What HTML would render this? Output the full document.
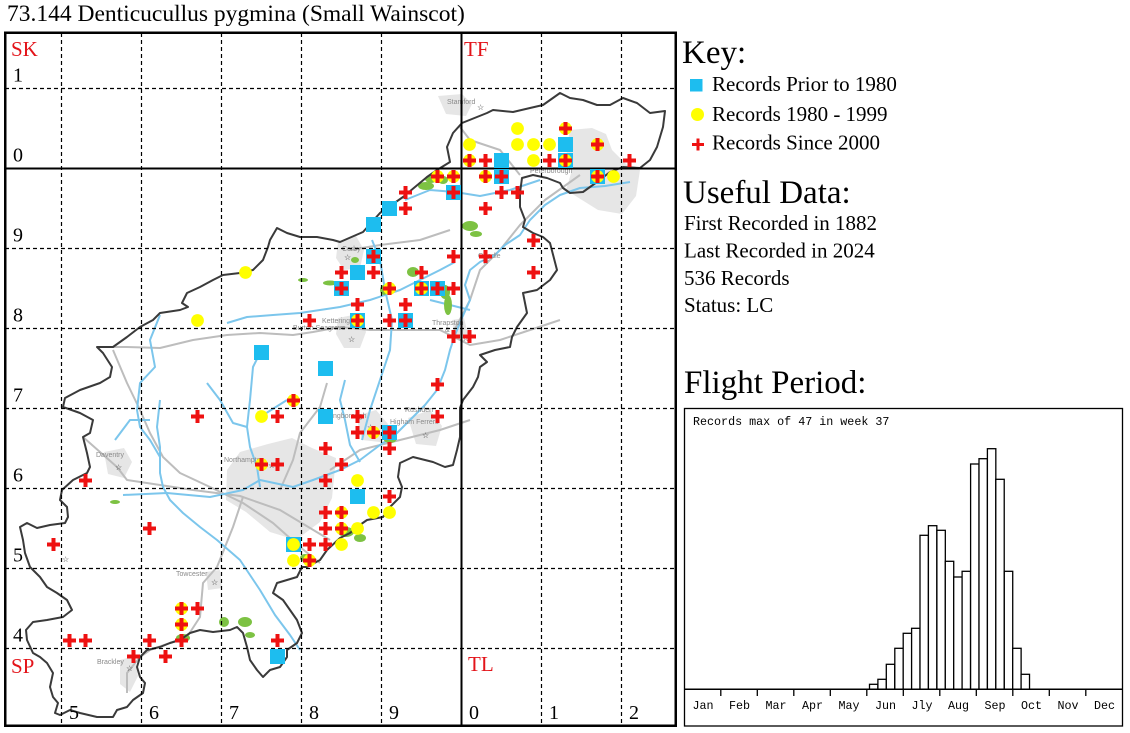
<!DOCTYPE html>
<html><head><meta charset="utf-8"><style>
html,body{margin:0;padding:0;background:#fff;}
svg{display:block;}
.serif{font-family:"Liberation Serif","Times New Roman",serif;}
.mono{font-family:"Liberation Mono","Courier New",monospace;}
.town{font-family:"Liberation Sans",sans-serif;font-size:7px;fill:#8a8a8a;}
</style></head><body>
<svg width="1130" height="733" viewBox="0 0 1130 733" xmlns="http://www.w3.org/2000/svg">
<rect width="1130" height="733" fill="#fff"/>
<text x="7" y="21" class="serif" font-size="23.5" fill="#000">73.144 Denticucullus pygmina (Small Wainscot)</text>

<!-- MAP -->
<g>
<!-- urban areas -->
<g fill="#e6e6e6">
<path d="M227,470 L240,452 L268,444 L292,438 L312,448 L336,458 L332,498 L320,522 L296,540 L270,532 L246,512 L226,500 Z"/>
<path d="M570,130 L592,128 L606,134 L612,150 L628,166 L640,170 L636,196 L622,214 L598,210 L582,200 L566,190 L572,170 L566,150 Z"/>
<path d="M338,242 L356,236 L364,250 L360,268 L344,270 L336,258 Z"/>
<path d="M338,318 L358,314 L366,332 L360,348 L344,348 L336,334 Z"/>
<path d="M356,416 L376,410 L388,424 L380,442 L362,440 Z"/>
<path d="M408,418 L430,410 L442,426 L436,446 L416,444 Z"/>
<path d="M104,452 L124,448 L132,462 L124,478 L108,474 Z"/>
<path d="M438,96 L462,94 L472,104 L466,116 L446,114 Z"/>
<path d="M120,660 L134,656 L138,676 L130,692 L120,684 Z"/>
<path d="M206,572 L220,570 L222,588 L208,590 Z"/>
<path d="M452,320 L464,318 L468,334 L456,340 Z"/>
</g>
<!-- roads -->
<g fill="none" stroke="#bdbdbd" stroke-width="2" stroke-linejoin="round">
<polyline points="97,347 127,347 160,348 193,340 227,335 260,333 293,335 313,332 340,327 370,330 400,330 440,330 470,345 500,340 530,330 560,320"/>
<polyline points="113,350 127,383 140,410 150,433 163,457 180,473 210,487 243,503 273,523 300,547 320,563"/>
<polyline points="83,437 117,467 127,480 193,490 240,496 280,510 330,540"/>
<polyline points="327,383 320,407 300,433 293,460 280,490"/>
<polyline points="243,497 233,527 217,567 203,583 200,617 187,637 150,650 140,657 127,673 127,693"/>
<polyline points="330,470 360,450 400,440 440,430 470,420"/>
<polyline points="460,127 470,140 500,150 520,175"/>
<polyline points="452,335 470,300 480,270 500,250 520,225 545,200 580,175"/>
<polyline points="350,250 380,245 420,240 450,230"/>
</g>
<!-- rivers -->
<g fill="none" stroke="#7cc6ec" stroke-width="2" stroke-linejoin="round">
<polyline points="123,495 167,493 210,497 243,490 260,480 293,487 313,480 340,470 360,460 380,445 395,435 410,420 425,405 437,390 445,370 450,350 455,335 462,318 470,300 465,285 470,270 480,262 495,255 505,245 520,235 530,220 545,205 560,195 580,188 605,186 630,182"/>
<polyline points="160,315 150,340 155,367 140,383 137,410 140,427 150,440 160,457 160,473 163,487 170,500 183,513 200,527 217,540 240,560 260,590 275,615 290,635 300,650"/>
<polyline points="160,400 157,427 160,447 160,460"/>
<polyline points="260,353 253,367 250,400 247,427 250,447 257,467 260,487"/>
<polyline points="207,383 220,400 233,423 247,427"/>
<polyline points="260,417 287,400"/>
<polyline points="227,323 247,317 273,315 300,313 340,307 370,300 400,290 420,280 440,270 455,262"/>
<polyline points="150,420 130,420 115,440"/>
<polyline points="345,380 340,400 345,420 350,445 360,462"/>
<polyline points="372,240 380,260 385,290 392,320 390,350 380,380 370,410 362,440"/>
<polyline points="405,200 430,190 455,192 480,196 510,190 540,180"/>
<polyline points="430,300 450,305 470,310"/>
</g>
<!-- woodland -->
<g fill="#7dc243">
<ellipse cx="303" cy="280" rx="5" ry="2"/><ellipse cx="330" cy="283" rx="7" ry="2.5"/>
<ellipse cx="413" cy="272" rx="6" ry="5"/><ellipse cx="426" cy="186" rx="8" ry="4"/>
<ellipse cx="443" cy="180" rx="5" ry="4"/><ellipse cx="470" cy="226" rx="8" ry="5"/>
<ellipse cx="476" cy="234" rx="6" ry="3"/><ellipse cx="445" cy="292" rx="5" ry="7"/>
<ellipse cx="448" cy="305" rx="4" ry="10"/><ellipse cx="384" cy="290" rx="4" ry="5"/>
<ellipse cx="115" cy="502" rx="5" ry="2"/><ellipse cx="183" cy="638" rx="7" ry="4"/>
<ellipse cx="224" cy="622" rx="5" ry="5"/><ellipse cx="245" cy="622" rx="7" ry="5"/>
<ellipse cx="250" cy="635" rx="5" ry="3"/><ellipse cx="346" cy="532" rx="8" ry="5"/>
<ellipse cx="360" cy="538" rx="6" ry="4"/><ellipse cx="305" cy="558" rx="5" ry="4"/>
<ellipse cx="390" cy="440" rx="6" ry="3"/><ellipse cx="355" cy="260" rx="4" ry="3"/>
<ellipse cx="431" cy="179" rx="6" ry="4"/>
</g>
<!-- county outline -->
<polygon fill="none" stroke="#3a3a3a" stroke-width="2" stroke-linejoin="round" points="63,407 80,413 93,420 90,433 83,437 87,453 90,467 87,473 73,480 62,490 60,500 67,507 68,517 65,523 50,525 37,528 27,523 20,527 23,540 25,553 30,567 40,577 47,587 57,593 67,600 72,610 63,617 47,620 33,622 26,630 27,640 33,653 40,657 47,663 53,673 50,687 53,697 58,703 55,713 60,715 70,710 80,713 97,717 113,717 117,710 127,707 133,700 143,693 145,683 140,677 137,667 140,657 147,650 160,647 170,643 180,640 190,633 200,630 213,632 230,630 237,627 243,633 247,647 250,660 257,670 263,677 270,670 280,667 287,657 287,650 297,643 302,633 297,620 290,610 283,600 273,593 277,583 287,580 297,577 302,567 307,567 320,560 327,550 340,538 350,533 357,527 367,520 383,517 390,507 400,497 402,487 398,477 400,463 413,457 433,462 445,467 453,465 457,450 460,437 460,408 463,400 473,387 478,377 480,367 487,362 480,355 495,350 510,347 512,337 517,327 527,313 523,293 537,290 550,280 557,270 550,243 543,237 533,233 523,227 525,220 520,207 520,193 522,178 533,175 547,178 560,183 563,188 570,193 583,192 597,182 610,172 623,167 640,168 650,160 657,147 660,137 663,127 665,111 650,113 637,103 623,98 610,105 597,105 583,100 570,98 560,93 543,105 530,108 513,112 493,110 487,113 477,117 462,123 453,133 447,147 450,162 437,170 427,177 403,197 380,213 363,232 340,242 333,240 317,237 300,237 287,233 277,228 270,240 268,247 263,260 253,270 240,273 223,275 213,280 200,287 187,293 182,303 188,307 180,310 160,313 153,320 140,327 127,337 113,347 97,347 103,353 112,367 110,377 100,383 80,390 65,398"/>
<!-- town labels -->
<g class="town">
<text x="447" y="104">Stamford</text>
<text x="342" y="251">Corby</text>
<text x="478" y="258">Oundle</text>
<text x="322" y="323">Kettering &amp;</text>
<text x="293" y="330">Burton Seagrave</text>
<text x="432" y="325">Thrapston</text>
<text x="445" y="332">&amp;</text>
<text x="318" y="418">Wellingborough</text>
<text x="405" y="412">Rushden</text>
<text x="390" y="424">Higham Ferrers</text>
<text x="224" y="462">Northampton</text>
<text x="96" y="457">Daventry</text>
<text x="176" y="576">Towcester</text>
<text x="97" y="664">Brackley</text>
<text x="530" y="173">Peterborough</text>
</g>
<g font-size="8" fill="#333" class="serif">
<text x="477" y="110">☆</text><text x="344" y="260">☆</text><text x="482" y="264">☆</text>
<text x="62" y="562">☆</text><text x="348" y="342">☆</text><text x="367" y="430">☆</text>
<text x="422" y="438">☆</text><text x="268" y="468">☆</text><text x="115" y="470">☆</text>
<text x="211" y="585">☆</text><text x="126" y="671">☆</text><text x="590" y="183">☆</text>
<text x="462" y="341">☆</text>
</g>
</g>

<!-- grid -->
<g stroke="#000" stroke-width="1.2" stroke-dasharray="4,3" fill="none">
<line x1="61.5" y1="33" x2="61.5" y2="726"/>
<line x1="141.5" y1="33" x2="141.5" y2="726"/>
<line x1="221.5" y1="33" x2="221.5" y2="726"/>
<line x1="301.5" y1="33" x2="301.5" y2="726"/>
<line x1="381.5" y1="33" x2="381.5" y2="726"/>
<line x1="541.5" y1="33" x2="541.5" y2="726"/>
<line x1="621.5" y1="33" x2="621.5" y2="726"/>
<line x1="5" y1="88.5" x2="676" y2="88.5"/>
<line x1="5" y1="248.5" x2="676" y2="248.5"/>
<line x1="5" y1="328.5" x2="676" y2="328.5"/>
<line x1="5" y1="408.5" x2="676" y2="408.5"/>
<line x1="5" y1="488.5" x2="676" y2="488.5"/>
<line x1="5" y1="568.5" x2="676" y2="568.5"/>
<line x1="5" y1="648.5" x2="676" y2="648.5"/>
</g>
<g stroke="#000" stroke-width="2" fill="none">
<line x1="461.5" y1="33" x2="461.5" y2="726"/>
<line x1="5" y1="168.5" x2="676" y2="168.5"/>
<rect x="5.25" y="32.75" width="670.5" height="693" stroke-width="2.5"/>
</g>

<!-- grid labels -->
<g class="serif" font-size="20" fill="#000">
<text x="13" y="81.5">1</text><text x="13" y="161.5">0</text><text x="13" y="241.5">9</text>
<text x="13" y="321.5">8</text><text x="13" y="401.5">7</text><text x="13" y="481.5">6</text>
<text x="13" y="561.5">5</text><text x="13" y="641.5">4</text>
<text x="69" y="719">5</text><text x="149" y="719">6</text><text x="229" y="719">7</text>
<text x="309" y="719">8</text><text x="389" y="719">9</text><text x="469" y="719">0</text>
<text x="549" y="719">1</text><text x="629" y="719">2</text>
</g>
<g class="serif" font-size="21" fill="#e3141a">
<text x="11" y="56">SK</text><text x="464" y="56">TF</text>
<text x="11" y="673">SP</text><text x="468" y="671">TL</text>
</g>

<!-- markers: squares -->
<g fill="#1dbdef">
<rect x="558" y="137" width="15" height="15"/><rect x="558" y="153" width="15" height="15"/>
<rect x="494" y="153" width="15" height="15"/><rect x="494" y="169" width="15" height="15"/>
<rect x="590" y="169" width="15" height="15"/><rect x="446" y="185" width="15" height="15"/>
<rect x="382" y="201" width="15" height="15"/><rect x="366" y="217" width="15" height="15"/>
<rect x="366" y="249" width="15" height="15"/><rect x="350" y="265" width="15" height="15"/>
<rect x="334" y="281" width="15" height="15"/><rect x="414" y="281" width="15" height="15"/>
<rect x="430" y="281" width="15" height="15"/><rect x="350" y="313" width="15" height="15"/>
<rect x="398" y="313" width="15" height="15"/><rect x="254" y="345" width="15" height="15"/>
<rect x="318" y="361" width="15" height="15"/><rect x="318" y="409" width="15" height="15"/>
<rect x="382" y="425" width="15" height="15"/><rect x="350" y="489" width="15" height="15"/>
<rect x="286" y="537" width="15" height="15"/><rect x="270" y="649" width="15" height="15"/>
</g>
<!-- circles -->
<g fill="#ffff00">
<circle cx="517.5" cy="128.5" r="6.4"/><circle cx="469.5" cy="144.5" r="6.4"/>
<circle cx="517.5" cy="144.5" r="6.4"/><circle cx="533.5" cy="144.5" r="6.4"/>
<circle cx="549.5" cy="144.5" r="6.4"/><circle cx="533.5" cy="160.5" r="6.4"/>
<circle cx="613.5" cy="176.5" r="6.4"/><circle cx="565.5" cy="128.5" r="6.4"/>
<circle cx="597.5" cy="144.5" r="6.4"/><circle cx="469.5" cy="160.5" r="6.4"/>
<circle cx="565.5" cy="160.5" r="6.4"/><circle cx="485.5" cy="176.5" r="6.4"/>
<circle cx="597.5" cy="176.5" r="6.4"/><circle cx="437.5" cy="176.5" r="6.4"/>
<circle cx="453.5" cy="176.5" r="6.4"/><circle cx="389.5" cy="288.5" r="6.4"/>
<circle cx="421.5" cy="288.5" r="6.4"/><circle cx="357.5" cy="320.5" r="6.4"/>
<circle cx="245.5" cy="272.5" r="6.4"/><circle cx="197.5" cy="320.5" r="6.4"/>
<circle cx="293.5" cy="400.5" r="6.4"/><circle cx="261.5" cy="416.5" r="6.4"/>
<circle cx="373.5" cy="432.5" r="6.4"/><circle cx="261.5" cy="464.5" r="6.4"/>
<circle cx="357.5" cy="480.5" r="6.4"/><circle cx="341.5" cy="512.5" r="6.4"/>
<circle cx="373.5" cy="512.5" r="6.4"/><circle cx="389.5" cy="512.5" r="6.4"/>
<circle cx="341.5" cy="528.5" r="6.4"/><circle cx="357.5" cy="528.5" r="6.4"/>
<circle cx="293.5" cy="544.5" r="6.4"/><circle cx="341.5" cy="544.5" r="6.4"/>
<circle cx="293.5" cy="560.5" r="6.4"/><circle cx="309.5" cy="560.5" r="6.4"/>
<circle cx="181.5" cy="608.5" r="6.4"/><circle cx="181.5" cy="624.5" r="6.4"/>
</g>
<!-- crosses -->
<path fill="none" stroke="#ee1111" stroke-width="4" d="
M559,128.5h13M565.5,122v13 M591,144.5h13M597.5,138v13 M463,160.5h13M469.5,154v13 M479,160.5h13M485.5,154v13
M543,160.5h13M549.5,154v13 M559,160.5h13M565.5,154v13 M623,160.5h13M629.5,154v13
M431,176.5h13M437.5,170v13 M447,176.5h13M453.5,170v13 M479,176.5h13M485.5,170v13 M495,176.5h13M501.5,170v13 M591,176.5h13M597.5,170v13
M399,192.5h13M405.5,186v13 M447,192.5h13M453.5,186v13 M495,192.5h13M501.5,186v13 M511,192.5h13M517.5,186v13
M399,208.5h13M405.5,202v13 M479,208.5h13M485.5,202v13
M527,240.5h13M533.5,234v13
M367,256.5h13M373.5,250v13 M447,256.5h13M453.5,250v13 M479,256.5h13M485.5,250v13
M335,272.5h13M341.5,266v13 M367,272.5h13M373.5,266v13 M415,272.5h13M421.5,266v13 M527,272.5h13M533.5,266v13
M335,288.5h13M341.5,282v13 M383,288.5h13M389.5,282v13 M415,288.5h13M421.5,282v13 M431,288.5h13M437.5,282v13 M447,288.5h13M453.5,282v13
M351,304.5h13M357.5,298v13 M399,304.5h13M405.5,298v13
M303,320.5h13M309.5,314v13 M351,320.5h13M357.5,314v13 M383,320.5h13M389.5,314v13 M399,320.5h13M405.5,314v13
M447,336.5h13M453.5,330v13 M463,336.5h13M469.5,330v13
M431,384.5h13M437.5,378v13
M287,400.5h13M293.5,394v13
M191,416.5h13M197.5,410v13 M271,416.5h13M277.5,410v13 M351,416.5h13M357.5,410v13 M431,416.5h13M437.5,410v13
M351,432.5h13M357.5,426v13 M367,432.5h13M373.5,426v13 M383,432.5h13M389.5,426v13
M319,448.5h13M325.5,442v13 M383,448.5h13M389.5,442v13
M255,464.5h13M261.5,458v13 M271,464.5h13M277.5,458v13 M335,464.5h13M341.5,458v13
M319,480.5h13M325.5,474v13 M79,480.5h13M85.5,474v13
M383,496.5h13M389.5,490v13
M319,512.5h13M325.5,506v13 M335,512.5h13M341.5,506v13
M143,528.5h13M149.5,522v13 M319,528.5h13M325.5,522v13 M335,528.5h13M341.5,522v13
M47,544.5h13M53.5,538v13 M303,544.5h13M309.5,538v13 M319,544.5h13M325.5,538v13
M303,560.5h13M309.5,554v13
M175,608.5h13M181.5,602v13 M191,608.5h13M197.5,602v13
M175,624.5h13M181.5,618v13
M63,640.5h13M69.5,634v13 M79,640.5h13M85.5,634v13 M143,640.5h13M149.5,634v13 M175,640.5h13M181.5,634v13 M271,640.5h13M277.5,634v13
M127,656.5h13M133.5,650v13 M159,656.5h13M165.5,650v13"/>

<!-- KEY -->
<text x="682" y="63" class="serif" font-size="33">Key:</text>
<rect x="690" y="79" width="12.5" height="12.5" fill="#1dbdef"/>
<text x="712" y="91" class="serif" font-size="21">Records Prior to 1980</text>
<circle cx="697.5" cy="114.5" r="6.5" fill="#ffff00"/>
<text x="712" y="121" class="serif" font-size="21">Records 1980 - 1999</text>
<path d="M692,144.5h12M698,138.5v12" stroke="#ee1111" stroke-width="3" fill="none"/>
<text x="712" y="149.5" class="serif" font-size="21">Records Since 2000</text>

<text x="683" y="203" class="serif" font-size="33">Useful Data:</text>
<text x="684" y="230" class="serif" font-size="21">First Recorded in 1882</text>
<text x="684" y="257.5" class="serif" font-size="21">Last Recorded in 2024</text>
<text x="684" y="285" class="serif" font-size="21">536 Records</text>
<text x="684" y="312" class="serif" font-size="21">Status: LC</text>

<text x="684" y="393" class="serif" font-size="33">Flight Period:</text>

<!-- FLIGHT CHART -->
<rect x="684.5" y="408.5" width="438" height="317.5" fill="#fff" stroke="#000" stroke-width="1.3"/>
<text x="693" y="425" class="mono" font-size="11.7">Records max of 47 in week 37</text>
<g fill="#fff" stroke="#000" stroke-width="1.3">
<rect x="869.5" y="684.3" width="8.42" height="5"/>
<rect x="877.9" y="679.3" width="8.42" height="10"/>
<rect x="886.3" y="664.3" width="8.42" height="25"/>
<rect x="894.8" y="648.3" width="8.42" height="41"/>
<rect x="903.2" y="633.3" width="8.42" height="56"/>
<rect x="911.6" y="628.3" width="8.42" height="61"/>
<rect x="920.0" y="535.3" width="8.42" height="154"/>
<rect x="928.4" y="525.7" width="8.42" height="163.6"/>
<rect x="936.9" y="530.3" width="8.42" height="159"/>
<rect x="945.3" y="561.3" width="8.42" height="128"/>
<rect x="953.7" y="577.0" width="8.42" height="112.3"/>
<rect x="962.1" y="571.3" width="8.42" height="118"/>
<rect x="970.6" y="464.0" width="8.42" height="225.3"/>
<rect x="979.0" y="458.7" width="8.42" height="230.6"/>
<rect x="987.4" y="448.7" width="8.42" height="240.6"/>
<rect x="995.8" y="479.3" width="8.42" height="210"/>
<rect x="1004.3" y="571.3" width="8.42" height="118"/>
<rect x="1012.7" y="648.3" width="8.42" height="41"/>
<rect x="1021.1" y="674.3" width="8.42" height="15"/>
</g>
<line x1="684.5" y1="689.3" x2="1122.5" y2="689.3" stroke="#000" stroke-width="1.5"/>
<g stroke="#000" stroke-width="1.3">
<line x1="720.8" y1="689.3" x2="720.8" y2="696"/><line x1="757.3" y1="689.3" x2="757.3" y2="696"/>
<line x1="793.8" y1="689.3" x2="793.8" y2="696"/><line x1="830.3" y1="689.3" x2="830.3" y2="696"/>
<line x1="866.8" y1="689.3" x2="866.8" y2="696"/><line x1="903.3" y1="689.3" x2="903.3" y2="696"/>
<line x1="939.8" y1="689.3" x2="939.8" y2="696"/><line x1="976.3" y1="689.3" x2="976.3" y2="696"/>
<line x1="1012.8" y1="689.3" x2="1012.8" y2="696"/><line x1="1049.3" y1="689.3" x2="1049.3" y2="696"/>
<line x1="1085.8" y1="689.3" x2="1085.8" y2="696"/>
</g>
<g class="mono" font-size="11.7" text-anchor="middle">
<text x="703" y="709">Jan</text><text x="739.5" y="709">Feb</text><text x="776" y="709">Mar</text>
<text x="812.5" y="709">Apr</text><text x="849" y="709">May</text><text x="885.5" y="709">Jun</text>
<text x="922" y="709">Jly</text><text x="958.5" y="709">Aug</text><text x="995" y="709">Sep</text>
<text x="1031.5" y="709">Oct</text><text x="1068" y="709">Nov</text><text x="1104.5" y="709">Dec</text>
</g>
</svg>
</body></html>
